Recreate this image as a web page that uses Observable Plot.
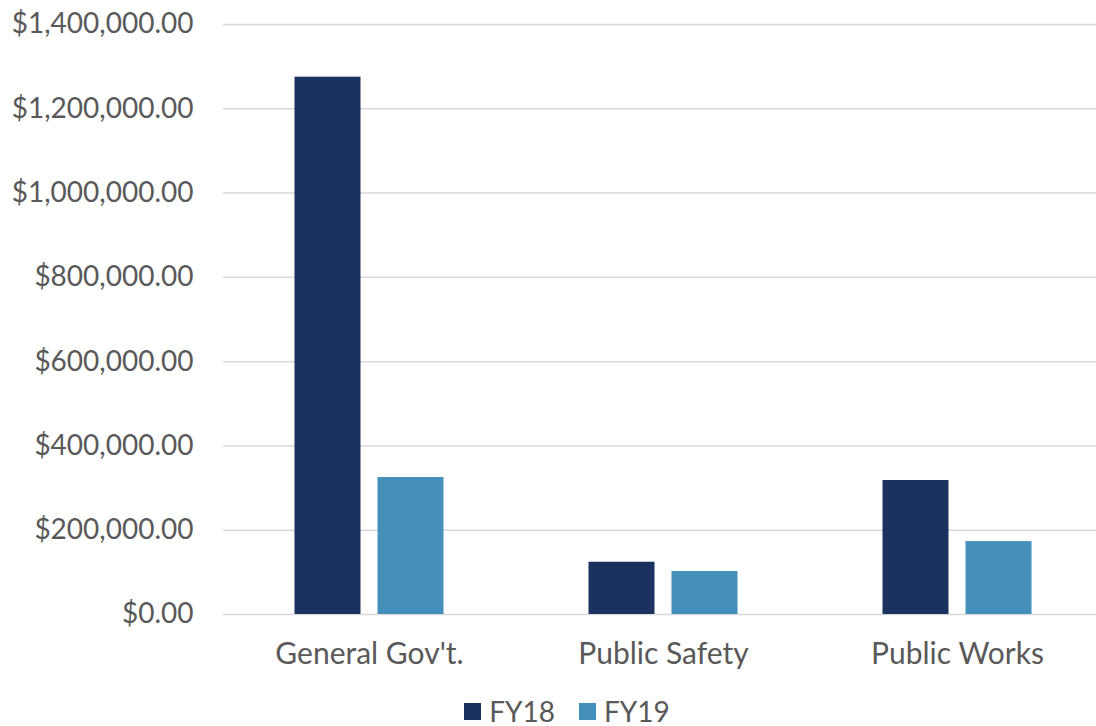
<!DOCTYPE html>
<html>
<head>
<meta charset="utf-8">
<script src="https://cdn.jsdelivr.net/npm/d3@7"></script>
<script src="https://cdn.jsdelivr.net/npm/@observablehq/plot@0.6"></script>
<style>
  html, body { margin: 0; padding: 0; background: #fff; }
  body { width: 1096px; height: 726px; overflow: hidden; font-family: Lato, "Open Sans", sans-serif; color: #595959; }
  #chart svg { display: block; }
  #legend { display: flex; justify-content: center; align-items: center; gap: 24px; padding-left: 38px; height: 28px; line-height: 28px; margin-top: 7px; font-size: 28px; }
  .item { display: flex; align-items: center; gap: 8px; }
  .sw { width: 17px; height: 17px; display: inline-block; }
</style>
</head>
<body>
<div id="chart"></div>
<div id="legend"></div>
<script>
const categories = ["General Gov't.", "Public Safety", "Public Works"];
const seriesNames = ["FY18", "FY19"];
const fy18 = [1275000, 124000, 318000];
const fy19 = [325000, 102000, 173000];
const yTicks = [0, 200000, 400000, 600000, 800000, 1000000, 1200000, 1400000];
const colors = ["#1b3260", "#4590bb"];

const rows18 = categories.map((c, i) => ({category: c, series: "FY18", value: fy18[i]}));
const rows19 = categories.map((c, i) => ({category: c, series: "FY19", value: fy19[i]}));

const W = 1096, ML = 223, MR = 0;
const xRange = [222, 1104];
const step = (xRange[1] - xRange[0]) / categories.length;
const barW = 66, gap = 17;
const groupW = barW * 2 + gap;
const outer = (step - groupW) / 2;

const chart = Plot.plot({
  width: W,
  height: 690,
  marginLeft: ML,
  marginRight: MR,
  marginTop: 24,
  marginBottom: 76,
  style: {fontFamily: "Lato, 'Open Sans', sans-serif", fontSize: "28px", color: "#595959", background: "#fff"},
  x: {domain: categories, range: xRange, padding: 0, axis: null},
  y: {domain: [0, 1400000], ticks: yTicks, tickFormat: d3.format("$,.2f"), label: null, tickSize: 0, tickPadding: 30},
  marks: [
    Plot.ruleY(yTicks, {stroke: "#d9d9d9", strokeWidth: 1.5}),
    Plot.barY(rows18, {x: "category", y: "value", fill: colors[0], insetLeft: outer, insetRight: step - outer - barW}),
    Plot.barY(rows19, {x: "category", y: "value", fill: colors[1], insetLeft: outer + barW + gap, insetRight: outer}),
    Plot.axisX({label: null, tickSize: 0, tickPadding: 28, fontSize: 30})
  ]
});
document.getElementById("chart").appendChild(chart);

const legend = document.getElementById("legend");
seriesNames.forEach((s, i) => {
  const item = document.createElement("div");
  item.className = "item";
  const sw = document.createElement("span");
  sw.className = "sw";
  sw.style.background = colors[i];
  const t = document.createElement("span");
  t.textContent = s;
  item.appendChild(sw);
  item.appendChild(t);
  legend.appendChild(item);
});
</script>
</body>
</html>
